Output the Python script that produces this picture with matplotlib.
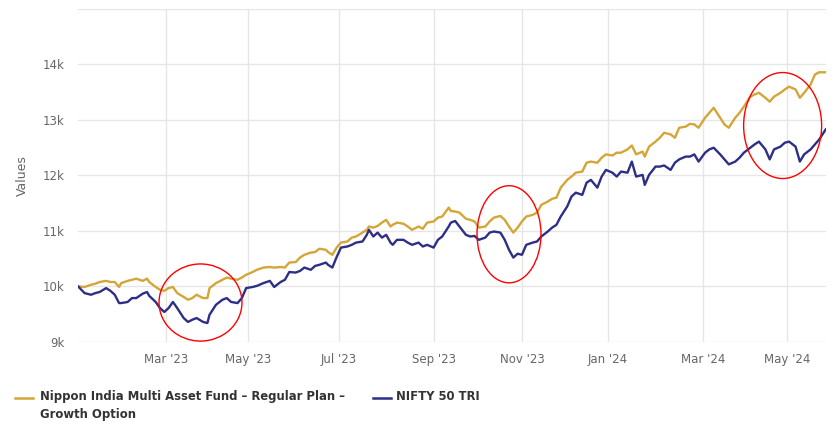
import matplotlib
matplotlib.use("Agg")
import matplotlib.pyplot as plt
from matplotlib.lines import Line2D
from matplotlib.patches import Ellipse
from matplotlib.ticker import FixedLocator, FuncFormatter

# trading-day index (ordinal axis, like highstock) and sampled values
trading_day = [0, 3, 6, 8, 10, 13, 15, 17, 19, 20, 23, 25, 27, 30, 32, 33, 36, 38, 40, 42,
               44, 46, 49, 51, 53, 55, 58, 60, 61, 64, 67, 69, 71, 74, 76, 78, 81, 83, 86, 89,
               91, 94, 96, 98, 101, 103, 105, 108, 110, 112, 115, 116, 118, 120, 122, 125, 127, 129, 132, 134,
               135, 137, 139, 141, 143, 145, 146, 148, 151, 153, 155, 158, 160, 162, 165, 167, 169, 172, 173, 175,
               177, 180, 182, 184, 186, 189, 191, 193, 196, 198, 200, 202, 204, 206, 208, 211, 213, 215, 218, 220,
               222, 224, 227, 229, 231, 234, 236, 238, 241, 243, 245, 248, 250, 252, 255, 257, 259, 262, 263, 265,
               268, 270, 272, 275, 277, 279, 282, 284, 286, 288, 291, 293, 295, 298, 300, 302, 305, 307, 309, 312,
               314, 316, 319, 321, 323, 326, 328, 330, 333, 335, 337, 340, 342, 344, 347]

fund_values = [10000, 9990, 10030, 10050, 10080, 10100, 10080, 10080, 9990, 10060, 10100, 10120, 10140, 10100, 10140, 10080, 9990, 9940, 9920, 9970,
               9990, 9880, 9810, 9760, 9790, 9850, 9790, 9790, 9970, 10060, 10120, 10160, 10140, 10120, 10160, 10210, 10260, 10300, 10340, 10350,
               10340, 10350, 10340, 10430, 10440, 10520, 10570, 10610, 10620, 10680, 10660, 10620, 10570, 10700, 10790, 10810, 10880, 10900, 10970, 11020,
               11080, 11060, 11090, 11150, 11200, 11080, 11110, 11150, 11130, 11080, 11020, 11080, 11040, 11150, 11170, 11240, 11260, 11420, 11360, 11350,
               11330, 11220, 11200, 11170, 11060, 11080, 11170, 11240, 11270, 11200, 11080, 10970, 11060, 11170, 11260, 11290, 11330, 11470, 11530, 11580,
               11600, 11780, 11920, 11980, 12050, 12070, 12230, 12250, 12230, 12320, 12380, 12360, 12410, 12410, 12470, 12540, 12380, 12430, 12340, 12520,
               12610, 12680, 12770, 12740, 12680, 12860, 12880, 12930, 12920, 12860, 13040, 13130, 13220, 13040, 12920, 12860, 13040, 13130, 13240, 13420,
               13460, 13490, 13400, 13330, 13420, 13490, 13550, 13600, 13550, 13400, 13490, 13640, 13820, 13860, 13860]

nifty_values = [10000, 9880, 9850, 9880, 9900, 9970, 9920, 9850, 9700, 9700, 9720, 9790, 9790, 9870, 9900, 9830, 9720, 9610, 9540, 9610,
                9720, 9610, 9430, 9360, 9400, 9430, 9360, 9340, 9490, 9670, 9760, 9790, 9720, 9700, 9790, 9970, 9990, 10010, 10060, 10100,
                9990, 10080, 10120, 10260, 10250, 10280, 10340, 10300, 10370, 10390, 10430, 10390, 10340, 10530, 10700, 10720, 10750, 10790, 10810, 10930,
                11020, 10900, 10970, 10880, 10930, 10790, 10750, 10840, 10840, 10790, 10750, 10790, 10720, 10750, 10700, 10840, 10900, 11080, 11150, 11180,
                11080, 10930, 10900, 10910, 10840, 10880, 10970, 10990, 10970, 10840, 10660, 10520, 10590, 10570, 10750, 10790, 10810, 10900, 10990, 11060,
                11110, 11260, 11440, 11620, 11690, 11650, 11870, 11920, 11780, 11980, 12100, 12050, 11980, 12070, 12050, 12250, 11980, 12010, 11830, 12010,
                12160, 12160, 12180, 12100, 12230, 12290, 12340, 12340, 12380, 12250, 12410, 12470, 12500, 12380, 12290, 12200, 12250, 12320, 12410, 12500,
                12560, 12610, 12470, 12290, 12470, 12520, 12590, 12610, 12520, 12250, 12380, 12470, 12560, 12650, 12830]

month_labels = ["Mar '23", "May '23", "Jul '23", "Sep '23", "Nov '23", "Jan '24", "Mar '24", "May '24"]
month_tick_days = [41, 79, 121, 165, 206, 246, 290, 329]

y_ticks = [9000, 10000, 11000, 12000, 13000, 14000, 15000]

# highlighted regions (centre day, centre value, width in days, height in value)
highlights = [(56.8, 9710, 38.5, 1390), (200, 10940, 29.7, 1750), (327, 12900, 36.2, 1910)]

fund_name = "Nippon India Multi Asset Fund – Regular Plan –\nGrowth Option"
bench_name = "NIFTY 50 TRI"

gold = "#D4A537"
navy = "#2D2F85"

fig = plt.figure(figsize=(8.4, 4.29), dpi=100)
ax = fig.add_axes([0.093, 0.203, 0.89, 0.776])

ax.plot(trading_day, fund_values, color=gold, lw=1.7, solid_joinstyle="round")
ax.plot(trading_day, nifty_values, color=navy, lw=1.7, solid_joinstyle="round")

for cx, cy, w, h in highlights:
    ax.add_patch(Ellipse((cx, cy), w, h, fill=False, edgecolor="red", lw=1.0, zorder=5))

ax.set_xlim(0, 347)
ax.set_ylim(9000, 15000)
ax.xaxis.set_major_locator(FixedLocator(month_tick_days))
ax.set_xticklabels(month_labels)
ax.yaxis.set_major_locator(FixedLocator(y_ticks))
ax.yaxis.set_major_formatter(FuncFormatter(lambda v, p: "" if v >= 15000 else f"{int(v / 1000)}k"))

ax.grid(True, color="#e6e6e6", lw=1)
ax.set_axisbelow(True)
for s in ax.spines.values():
    s.set_visible(False)
ax.tick_params(length=0, colors="#666666", labelsize=8.5)
ax.tick_params(axis="x", pad=8)
ax.tick_params(axis="y", pad=10)
ax.set_ylabel("Values", color="#666666", fontsize=9, labelpad=10)

# legend below the plot, symbol aligned with the first text line (highcharts style)
W, H = 840, 429
for (x0, x1, tx), label, col in [((15, 33, 40), fund_name, gold), ((373, 391, 396), bench_name, navy)]:
    fig.add_artist(Line2D([x0 / W, x1 / W], [1 - 398 / H] * 2, color=col, lw=1.8,
                          transform=fig.transFigure))
    fig.text(tx / W, 1 - 390 / H, label, ha="left", va="top", fontsize=8.4, fontweight="bold",
             color="#333333", linespacing=1.5)

fig.savefig("out.png", dpi=100)
